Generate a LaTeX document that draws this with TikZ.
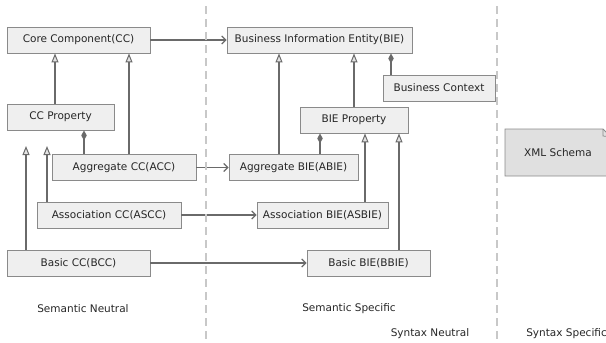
\documentclass[tikz,border=0pt]{standalone}
\usepackage{fontspec}
\setmainfont{DejaVu Sans}
\usetikzlibrary{arrows.meta}
\definecolor{boxfill}{HTML}{EFEFEF}
\definecolor{boxline}{HTML}{8A8A8A}
\definecolor{conn}{HTML}{6A6A6A}
\definecolor{sep}{HTML}{C8C8C8}
\definecolor{xmlfill}{HTML}{E0E0E0}
\definecolor{trifill}{HTML}{E4E4E4}
\tikzset{
  box/.style={draw=boxline, fill=boxfill, line width=0.9pt, minimum height=26pt, inner sep=0pt,
    font=\fontsize{10.5}{12}\selectfont, text=black!85},
  gen/.style={draw=conn, line width=1.7pt, -{Triangle[open, length=9pt, width=7pt, line width=1pt, fill=trifill]}},
  comp/.style={draw=conn, line width=1.7pt, {Diamond[length=10pt, width=5.5pt]}-},
  assoc/.style={draw=conn, line width=1.7pt, -{Straight Barb[length=4pt, width=8pt, line width=1.2pt]}},
  sepline/.style={draw=sep, line width=2.2pt, dash pattern=on 8pt off 5pt},
  lbl/.style={font=\fontsize{10.5}{12}\selectfont, text=black!85, inner sep=0pt}
}
\begin{document}
\begin{tikzpicture}[x=1pt, y=-1pt]
\useasboundingbox (0,0) rectangle (606,343);
\clip (0,0) rectangle (606,343);
% nodes
\node[box, minimum width=143pt] (CC) at (78.5,40) {Core Component(CC)};
\node[box, minimum width=107pt] (CCP) at (60.5,117) {CC Property};
\node[box, minimum width=144pt] (ACC) at (124,167.5) {Aggregate CC(ACC)};
\node[box, minimum width=144pt] (ASCC) at (109,215) {Association CC(ASCC)};
\node[box, minimum width=143pt] (BCC) at (78.5,263) {Basic CC(BCC)};
\node[box, minimum width=185pt] (BIE) at (319.5,40) {Business Information Entity(BIE)};
\node[box, minimum width=112pt] (BC) at (439,88) {Business Context};
\node[box, minimum width=108pt] (BIEP) at (354,120) {BIE Property};
\node[box, minimum width=129pt] (ABIE) at (293.5,167.5) {Aggregate BIE(ABIE)};
\node[box, minimum width=131pt] (ASBIE) at (322.5,215) {Association BIE(ASBIE)};
\node[box, minimum width=123pt] (BBIE) at (368.5,263) {Basic BIE(BBIE)};
% XML Schema (folded corner shape)
\filldraw[draw=boxline, fill=xmlfill, line width=0.9pt] (505,129) -- (603,129) -- (611,137) -- (611,176) -- (505,176) -- cycle;
\draw[draw=boxline, line width=0.7pt] (603,129) -- (603,136) -- (611,137);
\node[lbl] (XML) at (558,152.5) {XML Schema};
% free ends
\coordinate (t1) at (47,146);
\coordinate (t2) at (26,146);
% generalizations
\draw[gen] ([xshift=-5.5pt]CCP.north) -- ([xshift=-23.5pt]CC.south);
\draw[gen] ([xshift=5pt]ACC.north) -- ([xshift=50.5pt]CC.south);
\draw[gen] ([xshift=-62pt]ASCC.north) -- (t1);
\draw[gen] ([xshift=-52.5pt]BCC.north) -- (t2);
\draw[gen] ([xshift=-14.5pt]ABIE.north) -- ([xshift=-40.5pt]BIE.south);
\draw[gen] (BIEP.north) -- ([xshift=34.5pt]BIE.south);
\draw[gen] ([xshift=42.5pt]ASBIE.north) -- ([xshift=11pt]BIEP.south);
\draw[gen] ([xshift=30.5pt]BBIE.north) -- ([xshift=45pt]BIEP.south);
% compositions
\draw[comp] ([xshift=23.5pt]CCP.south) -- ([xshift=-40pt]ACC.north);
\draw[comp] ([xshift=71.5pt]BIE.south) -- ([xshift=-48pt]BC.north);
\draw[comp] ([xshift=-34pt]BIEP.south) -- ([xshift=26.5pt]ABIE.north);
% associations
\draw[assoc] (CC.east) -- (BIE.west);
\draw[assoc] (ACC.east) -- (ABIE.west);
\draw[assoc] (ASCC.east) -- (ASBIE.west);
\draw[assoc] (BCC.east) -- (BBIE.west);
% separators
\draw[sepline] (206,6) -- (206,343);
\draw[sepline] (497,6) -- (497,343);
% labels
\node[lbl] (sn) at (83,309) {Semantic Neutral};
\node[lbl] (ss) at (349,309) {Semantic Specific};
\node[lbl] (xn) at (430,334) {Syntax Neutral};
\node[lbl, anchor=east] (xs) at (607,334) {Syntax Specific};
\end{tikzpicture}
\end{document}
